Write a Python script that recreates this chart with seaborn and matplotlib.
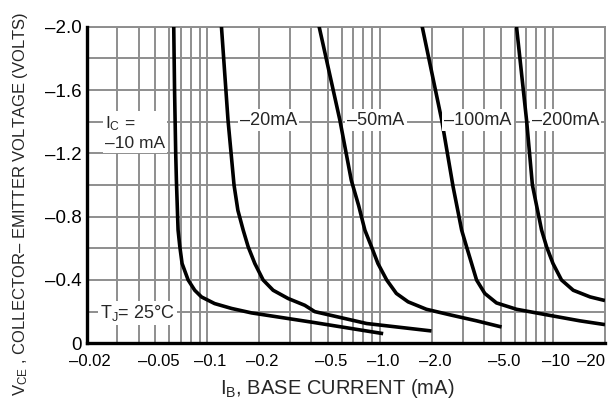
import numpy as np
import pandas as pd
import matplotlib
matplotlib.use("Agg")
import matplotlib.pyplot as plt
from matplotlib.ticker import LogLocator, MultipleLocator, NullFormatter
from matplotlib.transforms import ScaledTranslation
import seaborn as sns

# ---- data (magnitudes: IB in mA, VCE in volts) ----
curve_names = ["-10 mA", "-20 mA", "-50 mA", "-100 mA", "-200 mA"]

ib_10 = [0.0638, 0.0645, 0.0655, 0.0661, 0.0676, 0.0692, 0.0713, 0.0773, 0.0844,
         0.0923, 0.110, 0.138, 0.180, 0.268, 0.41, 1.04]
v_10 = [2.0, 1.6, 1.2, 1.03, 0.715, 0.61, 0.504, 0.40, 0.335,
        0.293, 0.251, 0.22, 0.192, 0.163, 0.132, 0.061]

ib_20 = [0.1205, 0.1315, 0.1425, 0.150, 0.161, 0.172, 0.188, 0.210, 0.240, 0.293,
         0.366, 0.418, 0.834, 1.98]
v_20 = [2.0, 1.41, 1.0, 0.84, 0.715, 0.61, 0.504, 0.40, 0.335, 0.283,
        0.24, 0.20, 0.125, 0.078]

ib_50 = [0.443, 0.584, 0.68, 0.75, 0.815, 0.89, 0.97, 1.09, 1.24, 1.45, 1.85, 2.53,
         3.61, 5.04]
v_50 = [2.0, 1.41, 1.03, 0.87, 0.715, 0.61, 0.504, 0.40, 0.315, 0.262, 0.215, 0.18,
        0.142, 0.103]

ib_100 = [1.75, 2.27, 2.64, 2.96, 3.16, 3.38, 3.61, 4.03, 4.71, 6.15, 9.18, 14.3, 20.0]
v_100 = [2.0, 1.41, 0.99, 0.715, 0.61, 0.504, 0.40, 0.315, 0.255, 0.215, 0.18, 0.142, 0.118]

ib_200 = [6.15, 7.03, 7.6, 8.21, 8.59, 9.18, 10.0, 11.2, 13.1, 16.4, 20.0]
v_200 = [2.0, 1.41, 1.0, 0.82, 0.715, 0.61, 0.504, 0.40, 0.335, 0.293, 0.27]

x_tick_values = [0.02, 0.05, 0.1, 0.2, 0.5, 1.0, 2.0, 5.0, 10, 20]
x_tick_labels = ["–0.02", "–0.05", "–0.1", "–0.2", "–0.5", "–1.0", "–2.0", "–5.0", "–10", "–20"]
y_tick_values = [0, 0.4, 0.8, 1.2, 1.6, 2.0]
y_tick_labels = ["0", "–0.4", "–0.8", "–1.2", "–1.6", "–2.0"]

frames = []
for name, xs, ys in zip(curve_names,
                        [ib_10, ib_20, ib_50, ib_100, ib_200],
                        [v_10, v_20, v_50, v_100, v_200]):
    frames.append(pd.DataFrame({"curve": name, "ib": xs, "vce": ys}))
df = pd.concat(frames, ignore_index=True)

# ---- styling ----
sns.set_theme(style="white")
plt.rcParams["font.family"] = ["Liberation Sans", "DejaVu Sans"]
plt.rcParams["mathtext.fontset"] = "custom"
plt.rcParams["mathtext.rm"] = "Liberation Sans"
plt.rcParams["mathtext.it"] = "Liberation Sans"
plt.rcParams["mathtext.bf"] = "Liberation Sans:bold"

fig = plt.figure(figsize=(6.13, 4.07), dpi=100)
ax = fig.add_axes([86.7 / 613, 1 - 343.3 / 407, (605 - 86.7) / 613, (343.3 - 26.7) / 407])

grid_color = "#8e8e8e"
ax.set_xscale("log")

sns.lineplot(data=df, x="ib", y="vce", hue="curve", units="curve", estimator=None,
             sort=False, palette=["black"] * len(curve_names), legend=False,
             linewidth=2.6, ax=ax, zorder=3)
for ln in ax.get_lines():
    ln.set_solid_capstyle("butt")
    ln.set_solid_joinstyle("round")

ax.set_xlim(0.02, 20)
ax.set_ylim(0, 2.0)

# labelled ticks (major) and grid positions (minor)
ax.set_xticks(x_tick_values)
ax.set_xticklabels(x_tick_labels)
ax.xaxis.set_minor_locator(LogLocator(base=10, subs=np.arange(1, 10), numticks=20))
ax.xaxis.set_minor_formatter(NullFormatter())

ax.set_yticks(y_tick_values)
ax.set_yticklabels(y_tick_labels)
ax.yaxis.set_minor_locator(MultipleLocator(0.2))

ax.grid(True, which="both", color=grid_color, linewidth=1.4)
ax.set_axisbelow(True)

ax.tick_params(which="both", length=0, colors="black")
ax.tick_params(axis="x", which="major", pad=8, labelsize=12)
ax.tick_params(axis="y", which="major", pad=3.5, labelsize=13.5)

shift = ScaledTranslation(3 / 100, 0, fig.dpi_scale_trans)
xlabels = ax.get_xticklabels()
for lbl in xlabels[:-1]:
    lbl.set_transform(lbl.get_transform() + shift)
xlabels[-1].set_horizontalalignment("right")

for side in ["left", "bottom"]:
    ax.spines[side].set_color("black")
    ax.spines[side].set_linewidth(2.4)
    ax.spines[side].set_zorder(4)
for side in ["top", "right"]:
    ax.spines[side].set_color(grid_color)
    ax.spines[side].set_linewidth(1.4)

ax.set_xlabel("")
ax.set_ylabel("")
fig.text(337 / 613, 1 - 389 / 407, r"I$_\mathrm{B}$, BASE CURRENT (mA)",
         ha="center", va="center", fontsize=14.5)
fig.text(21 / 613, 1 - 11 / 407,
         r"V$_\mathrm{CE}$ , COLLECTOR– EMITTER VOLTAGE (VOLTS)",
         rotation=90, ha="center", va="top", fontsize=12)

box = dict(facecolor="white", edgecolor="none", pad=1.5)
ax.text(0.0254, 1.33, "I$_\\mathrm{C}$ =\n–10 mA", ha="left", va="center",
        fontsize=12.5, bbox=box, zorder=5, linespacing=1.25)
for xpos, lab in [(0.226, "–20mA"), (0.942, "–50mA"), (3.67, "–100mA"), (11.8, "–200mA")]:
    ax.text(xpos, 1.41, lab, ha="center", va="center", fontsize=13, bbox=box, zorder=5)
ax.text(0.0238, 0.19, "T$_\\mathrm{J}$= 25°C", ha="left", va="center", fontsize=13,
        bbox=box, zorder=5)

fig.savefig("out.png", dpi=100)
